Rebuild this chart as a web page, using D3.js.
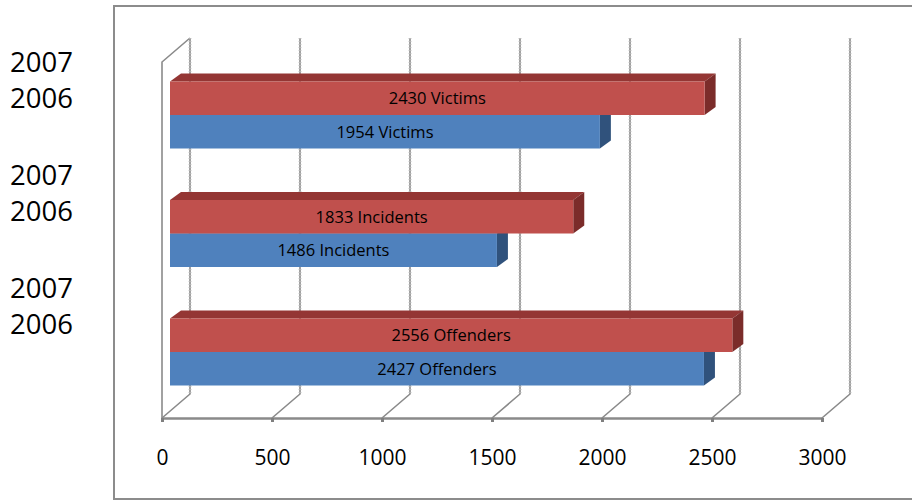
<!DOCTYPE html>
<html>
<head>
<meta charset="utf-8">
<script src="https://cdn.jsdelivr.net/npm/d3@7.9.0/dist/d3.min.js"></script>
<style>
  html, body { margin: 0; padding: 0; background: #fff; }
  svg { display: block; font-family: "Open Sans", sans-serif; }
</style>
</head>
<body>
<svg id="chart" width="912" height="502"></svg>
<script>
// data
const categories = ['Victims', 'Incidents', 'Offenders'];
const years = ['2007', '2006'];
const values2007 = [2430, 1833, 2556];
const values2006 = [1954, 1486, 2427];
const xTicks = [0, 500, 1000, 1500, 2000, 2500, 3000];

const svg = d3.select('#chart');

// 3d look: depth offset of back wall, and of each bar
const depth = { dx: 28, dy: -24 };
const barDepth = { dx: 11, dy: -8 };
const barShift = 8;
const floorY = 418;
const wallTop = 62;

const x = d3.scaleLinear().domain([0, 3000]).range([162, 822]);
const yGroup = d3.scalePoint().domain(categories).range([115, 352]);
const yYear = d3.scaleBand().domain(years).range([-33.5, 33.5]);

const colors = {
  '2007': { front: '#C0504D', top: '#943634', side: '#7B2C2A' },
  '2006': { front: '#4F81BD', top: '#3B6497', side: '#30527C' }
};
const gridColor = '#8a8a8a';

// outer chart border
svg.append('rect')
  .attr('x', 114).attr('y', 6)
  .attr('width', 830).attr('height', 493)
  .attr('fill', 'none')
  .attr('stroke', '#8c8c8c')
  .attr('stroke-width', 2);

// walls and gridlines
const grid = svg.append('g')
  .attr('fill', 'none')
  .attr('stroke', gridColor)
  .attr('stroke-width', 1.6);

xTicks.forEach((t) => {
  const fx = x(t);
  const bx = fx + depth.dx;
  grid.append('path')
    .attr('d', `M${fx},${floorY}L${bx},${floorY + depth.dy}L${bx},${wallTop + depth.dy}`);
});

// left wall
grid.append('path')
  .attr('d', `M${x(0)},${floorY}L${x(0)},${wallTop}L${x(0) + depth.dx},${wallTop + depth.dy}`);

// textured overlay for the dotted look
const tex = svg.append('g')
  .attr('fill', 'none')
  .attr('stroke', '#bdbdbd')
  .attr('stroke-width', 3)
  .attr('stroke-dasharray', '1,2')
  .attr('opacity', 0.8);
xTicks.forEach((t) => {
  const bx = x(t) + depth.dx;
  tex.append('line')
    .attr('x1', bx).attr('x2', bx)
    .attr('y1', wallTop + depth.dy).attr('y2', floorY + depth.dy);
});

// x axis on the floor front edge
const axis = d3.axisBottom(x)
  .tickValues(xTicks)
  .tickFormat(d3.format('d'))
  .tickSize(4)
  .tickSizeOuter(0)
  .tickPadding(28);

const axisG = svg.append('g')
  .attr('transform', `translate(0,${floorY})`)
  .call(axis);
axisG.select('.domain').attr('stroke', gridColor).attr('stroke-width', 2.5);
axisG.selectAll('.tick line').attr('stroke', '#7f7f7f').attr('stroke-width', 3);
axisG.selectAll('.tick text')
  .attr('fill', '#000')
  .style('font-family', '"Open Sans", sans-serif')
  .style('font-size', '21px');

// bars: 2006 first so the 2007 bar covers its top face
const rows = [];
categories.forEach((c, i) => {
  rows.push({ cat: c, year: '2006', value: values2006[i] });
  rows.push({ cat: c, year: '2007', value: values2007[i] });
});

const bars = svg.append('g');
rows.forEach((d) => {
  const x0 = x(0) + barShift;
  const x1 = x(d.value) + barShift;
  const y0 = yGroup(d.cat) + yYear(d.year);
  const y1 = y0 + yYear.bandwidth();
  const c = colors[d.year];
  const g = bars.append('g');
  // top face
  g.append('path')
    .attr('d', `M${x0},${y0}L${x0 + barDepth.dx},${y0 + barDepth.dy}L${x1 + barDepth.dx},${y0 + barDepth.dy}L${x1},${y0}Z`)
    .attr('fill', c.top);
  // side face
  g.append('path')
    .attr('d', `M${x1},${y0}L${x1 + barDepth.dx},${y0 + barDepth.dy}L${x1 + barDepth.dx},${y1 + barDepth.dy}L${x1},${y1}Z`)
    .attr('fill', c.side);
  // front face
  g.append('rect')
    .attr('x', x0).attr('y', y0)
    .attr('width', x1 - x0).attr('height', y1 - y0)
    .attr('fill', c.front);
  g.append('text')
    .attr('x', (x0 + x1) / 2)
    .attr('y', (y0 + y1) / 2)
    .attr('dy', '0.36em')
    .attr('text-anchor', 'middle')
    .style('font-size', '16.5px')
    .attr('fill', '#000')
    .text(`${d.value} ${d.cat}`);
});

// category/year labels on the left
const yLabel = d3.scalePoint().domain(categories).range([62, 288]);
const yearGap = { '2007': 0, '2006': 36 };
categories.forEach((c) => {
  years.forEach((yr) => {
    svg.append('text')
      .attr('x', 10)
      .attr('y', yLabel(c) + yearGap[yr])
      .attr('dy', '0.36em')
      .style('font-size', '27.5px')
      .attr('fill', '#000')
      .text(yr);
  });
});
</script>
</body>
</html>
